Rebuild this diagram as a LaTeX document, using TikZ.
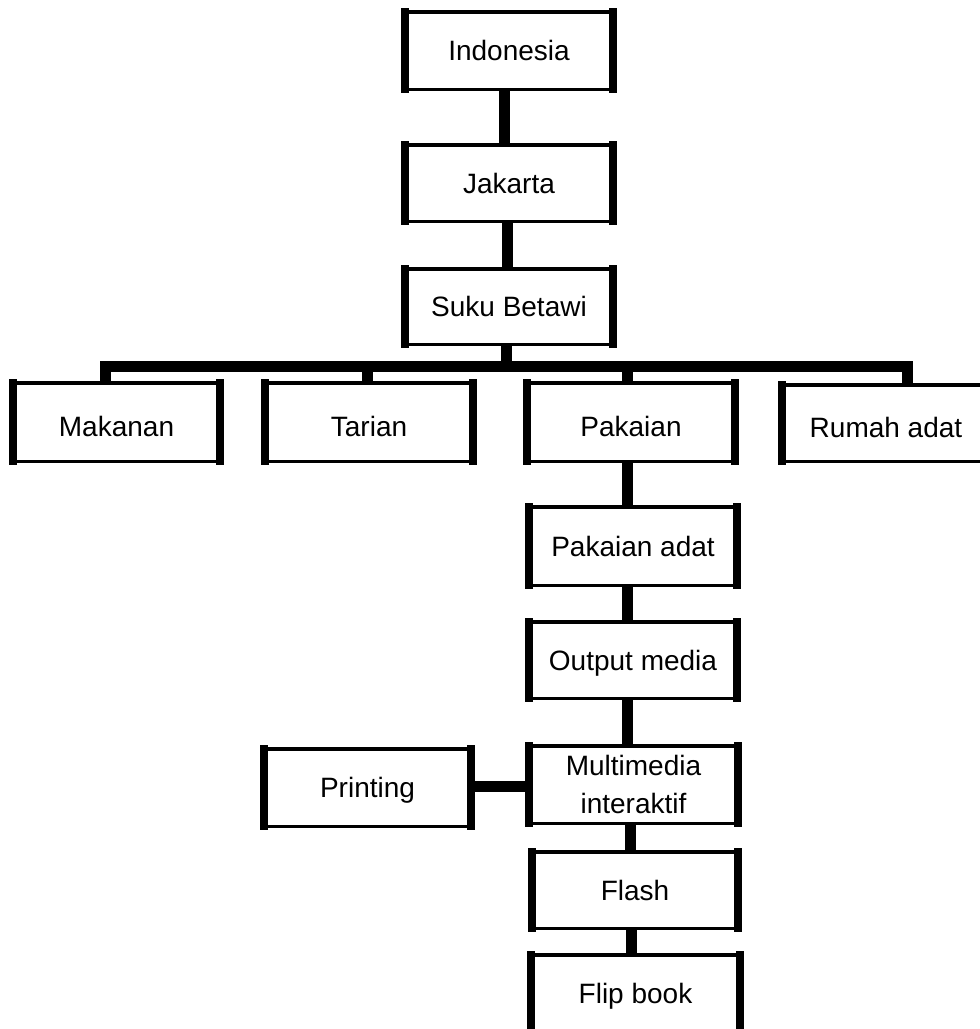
\documentclass[tikz,border=0pt]{standalone}
\usepackage{fontspec}
\setmainfont{Liberation Sans}
\begin{document}
\begin{tikzpicture}[x=1pt,y=-1pt,
  bx/.style={draw=black, line width=3.5pt, inner sep=0pt, rectangle,
    font=\fontsize{28}{38}\selectfont, align=center},
  one/.style={text height=20pt, text depth=0pt},
  low/.style={text height=28pt, text depth=0pt},
  conn/.style={line width=11pt, line cap=butt}]
\useasboundingbox (0,0) rectangle (980,1029);
\clip (0,0) rectangle (980,1029);
% nodes: minimum size = outer size - line width
\node[bx,one,minimum width=208.5pt,minimum height=77.5pt] (indo) at (509,50.5) {Indonesia};
\node[bx,one,minimum width=208.5pt,minimum height=76.5pt] (jak) at (509,183) {Jakarta};
\node[bx,one,minimum width=208.5pt,minimum height=75.5pt] (suku) at (509,306.5) {Suku Betawi};
\node[bx,low,minimum width=207.5pt,minimum height=78.5pt] (mak) at (116.5,422) {Makanan};
\node[bx,low,minimum width=208.5pt,minimum height=78.5pt] (tar) at (369,422) {Tarian};
\node[bx,low,minimum width=208.5pt,minimum height=78.5pt] (pak) at (631,422) {Pakaian};
\node[bx,low,minimum width=208.5pt,minimum height=76.5pt] (rum) at (886,423) {Rumah adat};
\node[bx,one,minimum width=208.5pt,minimum height=78.5pt] (pada) at (633,546) {Pakaian adat};
\node[bx,one,minimum width=208.5pt,minimum height=76.5pt] (out) at (633,660) {Output media};
\node[bx,minimum width=209.5pt,minimum height=77.5pt] (multi) at (633.5,784.5) {Multimedia\\interaktif};
\node[bx,one,minimum width=207.5pt,minimum height=77.5pt] (print) at (367.5,787.5) {Printing};
\node[bx,one,minimum width=206.5pt,minimum height=76.5pt] (flash) at (635,890) {Flash};
\node[bx,one,minimum width=209.5pt,minimum height=76.5pt] (flip) at (635.5,993) {Flip book};
% thick side borders
\foreach \n in {indo,jak,suku,mak,tar,pak,rum,pada,out,multi,print,flash,flip}{
  \fill ([xshift=-1.75pt,yshift=1.75pt]\n.north west) rectangle ([xshift=6.25pt,yshift=-1.75pt]\n.south west);
  \fill ([xshift=1.75pt,yshift=1.75pt]\n.north east) rectangle ([xshift=-6.25pt,yshift=-1.75pt]\n.south east);
}
% connectors
\draw[conn] ([xshift=-5pt]indo.south) -- ([xshift=-5pt]indo.south |- jak.north);
\draw[conn] ([xshift=-1.5pt]jak.south) -- ([xshift=-1.5pt]jak.south |- suku.north);
\coordinate (bar) at (506.5,366.5);
\coordinate (barL) at (105.5,366.5);
\coordinate (barT) at (367.5,366.5);
\coordinate (barP) at (627.5,366.5);
\coordinate (barR) at (907.5,366.5);
\draw[conn] ([xshift=-2.5pt]suku.south) -- ([xshift=-2.5pt,yshift=-5.5pt]suku.south |- bar);
\draw[conn] ([xshift=-5.5pt]barL) -- ([xshift=5.5pt]barR);
\draw[conn] ([yshift=5.5pt]barL) -- (barL |- mak.north);
\draw[conn] ([yshift=5.5pt]barT) -- (barT |- tar.north);
\draw[conn] ([yshift=5.5pt]barP) -- (barP |- pak.north);
\draw[conn] ([yshift=5.5pt]barR) -- (barR |- rum.north);
\draw[conn] ([xshift=-3.5pt]pak.south) -- ([xshift=-3.5pt]pak.south |- pada.north);
\draw[conn] ([xshift=-5.5pt]pada.south) -- ([xshift=-5.5pt]pada.south |- out.north);
\draw[conn] ([xshift=-6pt]out.south) -- ([xshift=-6pt]out.south |- multi.north);
\draw[conn] ([yshift=1.5pt]print.east) -- ([yshift=1.5pt]print.east -| multi.west);
\draw[conn] ([xshift=-3pt]multi.south) -- ([xshift=-3pt]multi.south |- flash.north);
\draw[conn] ([xshift=-3.5pt]flash.south) -- ([xshift=-3.5pt]flash.south |- flip.north);
\end{tikzpicture}
\end{document}
